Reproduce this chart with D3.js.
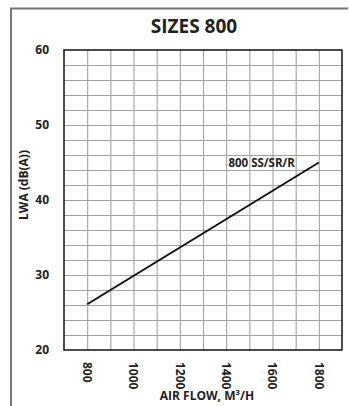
<!DOCTYPE html>
<html>
<head>
<meta charset="utf-8">
<script src="https://cdn.jsdelivr.net/npm/d3@7"></script>
<style>
  body { margin: 0; background: #fff; }
  svg text { font-family: "Open Sans", sans-serif; font-weight: bold; fill: #222; }
</style>
</head>
<body>
<div id="chart"></div>
<script>
var title = "SIZES 800";
var xLabel = "AIR FLOW, M\u00b3/H";
var yLabel = "LWA (dB(A))";
var seriesName = "800 SS/SR/R";
var flow = [800, 1800];      // m3/h
var lwa = [26.1, 45];        // dB(A)
var xTicks = [800, 1000, 1200, 1400, 1600, 1800];
var yTicks = [20, 30, 40, 50, 60];

var W = 349, H = 406;
var margin = {left: 64, top: 50, right: 7, bottom: 56};

var svg = d3.select("#chart").append("svg")
  .attr("width", W).attr("height", H);

// outer frame (only top and left edges show)
svg.append("path")
  .attr("d", "M11,406 L11,8.5 L348,8.5")
  .attr("fill", "none").attr("stroke", "#777").attr("stroke-width", 2);

var x = d3.scaleLinear().domain([700, 1900]).range([margin.left, W - margin.right]);
var y = d3.scaleLinear().domain([20, 60]).range([H - margin.bottom, margin.top]);

// grid via axes with full-length ticks
svg.append("g")
  .attr("class", "grid")
  .attr("transform", "translate(0," + y(20) + ")")
  .call(d3.axisBottom(x).tickValues(d3.range(800, 1900, 100)).tickSize(-(y(20) - y(60))).tickFormat(""))
  .call(function(s) { s.select(".domain").remove(); });
svg.append("g")
  .attr("class", "grid")
  .attr("transform", "translate(" + x(700) + ",0)")
  .call(d3.axisLeft(y).tickValues(d3.range(22, 60, 2)).tickSize(-(x(1900) - x(700))).tickFormat(""))
  .call(function(s) { s.select(".domain").remove(); });
svg.selectAll(".grid line").attr("stroke", "#a2a2a2").attr("stroke-width", 1.1);

var g = svg.append("g");

g.append("rect")
  .attr("x", x(700)).attr("y", y(60))
  .attr("width", x(1900) - x(700)).attr("height", y(20) - y(60))
  .attr("fill", "none").attr("stroke", "#111").attr("stroke-width", 1.5);

// y ticks
g.selectAll("text.yt").data(yTicks).enter().append("text")
  .attr("x", 49).attr("y", function(d) { return y(d); }).attr("dy", "0.35em")
  .attr("text-anchor", "end").style("font-size", "12px")
  .text(function(d) { return d; });

// x ticks, rotated
g.selectAll("text.xt").data(xTicks).enter().append("text")
  .attr("transform", function(d) { return "translate(" + x(d) + ",362) rotate(90)"; })
  .attr("dy", "0.35em").style("font-size", "12px")
  .text(function(d) { return d; });

// series line
var line = d3.line().x(function(d) { return x(d[0]); }).y(function(d) { return y(d[1]); });
g.append("path")
  .datum(d3.zip(flow, lwa))
  .attr("d", line)
  .attr("fill", "none").attr("stroke", "#111").attr("stroke-width", 2);

g.append("text")
  .attr("x", x(1800) - 24).attr("y", y(lwa[1]) + 4)
  .attr("text-anchor", "end").style("font-size", "11.5px")
  .text(seriesName);

svg.append("text")
  .attr("x", 194).attr("y", 33)
  .attr("text-anchor", "middle").style("font-size", "19px")
  .text(title);

svg.append("text")
  .attr("x", 207).attr("y", 400)
  .attr("text-anchor", "middle").style("font-size", "12px")
  .text(xLabel);

svg.append("text")
  .attr("transform", "translate(28,185) rotate(-90)")
  .attr("text-anchor", "middle").style("font-size", "12px")
  .text(yLabel);
</script>
</body>
</html>
